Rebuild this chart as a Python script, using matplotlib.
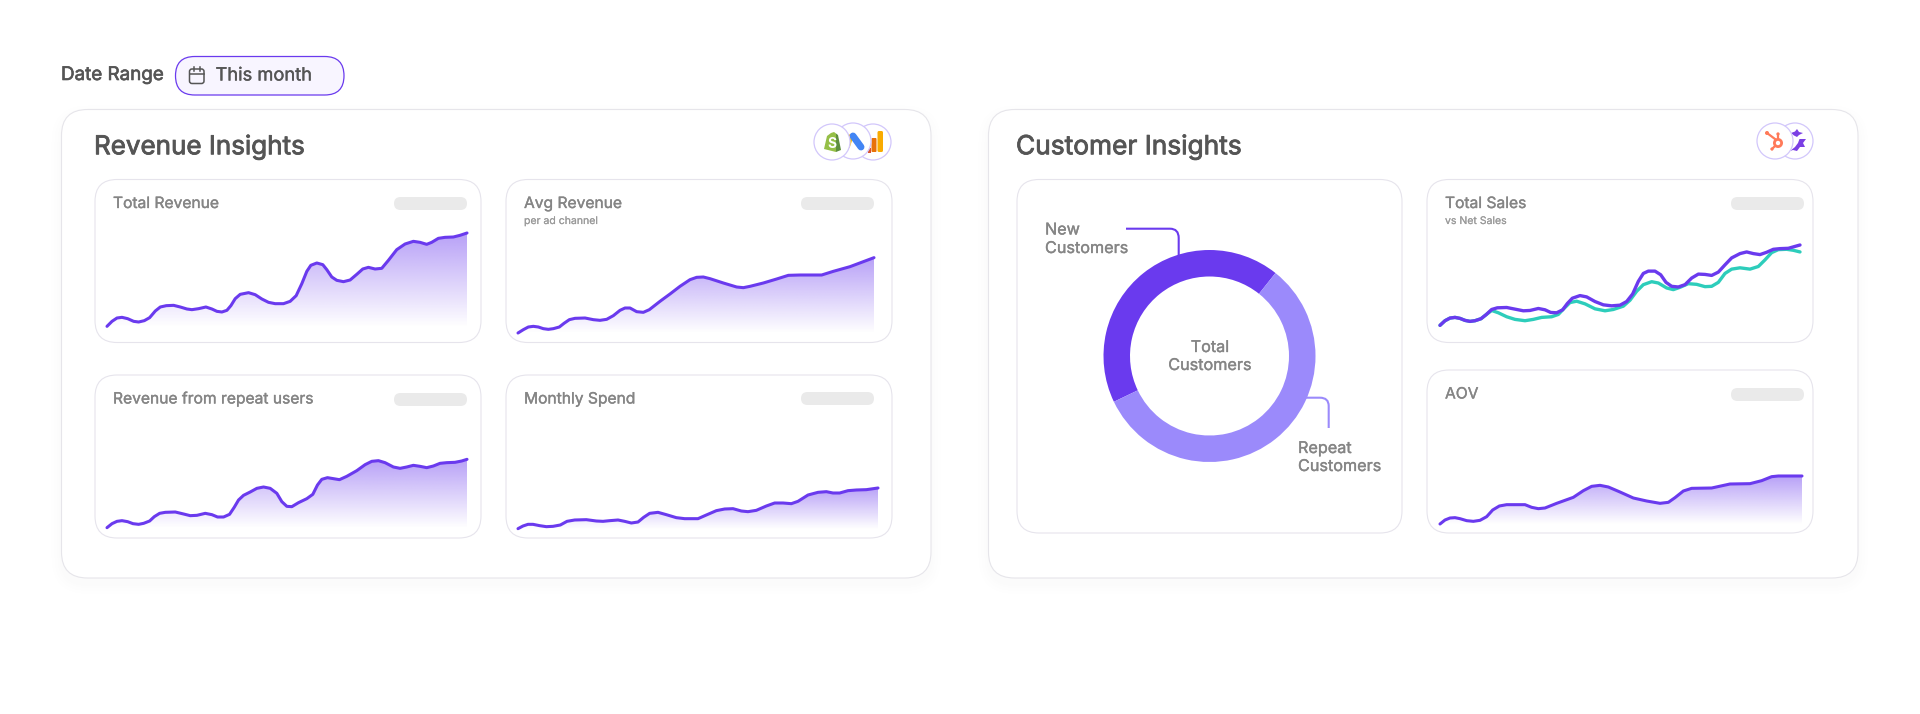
import numpy as np
import matplotlib
matplotlib.use("Agg")
import matplotlib.pyplot as plt
import matplotlib.patheffects as pe
from matplotlib.patches import FancyBboxPatch, Circle, Polygon, PathPatch, Rectangle
from matplotlib.path import Path

plt.rcParams['font.family'] = ['Inter', 'DejaVu Sans']

PURPLE = '#6A3AEE'
LIGHT_PURPLE = '#9B8AFB'
TEAL = '#2DCDBB'
DARK_TEXT = '#555555'
GREY_TEXT = '#858585'

total_rev_x = [0, 15, 30, 45, 62, 80, 95, 112, 128, 145, 160, 178, 200, 220, 240, 255, 275, 297, 315, 330, 345, 360, 372, 385, 400, 425, 445, 465, 485, 505, 530, 550, 568, 585, 600, 612, 630, 648, 660, 675, 690, 710, 730, 750, 768, 785, 805, 825, 845, 870, 895, 920, 940, 960, 975, 995, 1015, 1040, 1060, 1081]
total_rev_y = [2, 17, 27, 29, 25, 17, 15, 19, 28, 48, 60, 64, 65, 60, 54, 52, 55, 60, 54, 47, 45, 50, 64, 85, 98, 103, 97, 84, 74, 70, 70, 77, 94, 130, 167, 185, 192, 187, 172, 150, 140, 136, 141, 158, 174, 179, 174, 176, 200, 232, 249, 257, 254, 248, 254, 266, 269, 270, 275, 282]

avg_rev_x = [0, 16, 31, 46, 61, 76, 91, 106, 124, 138, 154, 171, 201, 226, 246, 266, 286, 306, 321, 336, 356, 376, 394, 426, 456, 486, 516, 536, 556, 576, 616, 656, 676, 696, 736, 776, 811, 846, 911, 946, 996, 1036, 1068]
avg_rev_y = [0, 10, 18, 20, 18, 13, 11, 13, 18, 29, 40, 44, 45, 40, 38, 41, 52, 68, 75, 75, 64, 62, 70, 95, 117, 140, 160, 167, 168, 163, 150, 138, 136, 140, 150, 162, 173, 174, 174, 185, 199, 214, 226]

repeat_x = [0, 15, 30, 45, 62, 78, 95, 110, 128, 142, 158, 175, 205, 230, 250, 270, 295, 315, 332, 350, 368, 382, 395, 410, 430, 450, 470, 490, 510, 525, 540, 555, 575, 600, 618, 632, 645, 662, 680, 698, 720, 750, 775, 795, 815, 835, 860, 880, 900, 920, 940, 960, 980, 1000, 1020, 1045, 1065, 1081]
repeat_y = [1, 13, 20, 22, 19, 13, 11, 14, 21, 34, 44, 47, 48, 42, 37, 38, 44, 40, 33, 33, 41, 62, 84, 98, 108, 119, 123, 119, 104, 79, 65, 64, 76, 88, 101, 129, 146, 151, 148, 145, 155, 172, 190, 200, 202, 196, 183, 179, 183, 188, 185, 181, 186, 194, 196, 197, 201, 206]

spend_x = [0, 15, 30, 45, 65, 85, 105, 127, 147, 170, 205, 235, 255, 275, 300, 320, 340, 360, 377, 395, 420, 445, 475, 500, 540, 565, 595, 620, 645, 670, 690, 715, 745, 770, 795, 820, 840, 870, 900, 925, 945, 965, 990, 1015, 1045, 1080]
spend_y = [1, 9, 14, 14, 10, 7, 8, 12, 23, 27, 28, 24, 23, 25, 27, 23, 18, 21, 35, 47, 50, 43, 34, 31, 31, 42, 55, 60, 61, 54, 52, 56, 69, 78, 78, 76, 83, 102, 110, 112, 108, 108, 115, 117, 118, 123]

sales_x = [0, 15, 30, 45, 60, 75, 90, 105, 123, 138, 155, 172, 200, 225, 250, 270, 295, 315, 332, 350, 368, 382, 397, 420, 440, 465, 490, 515, 540, 560, 578, 595, 610, 625, 645, 662, 678, 695, 715, 735, 755, 775, 795, 815, 835, 855, 875, 900, 920, 940, 960, 980, 1000, 1020, 1045, 1080]
sales_y = [2, 16, 24, 26, 23, 17, 14, 16, 22, 34, 50, 55, 56, 51, 46, 47, 53, 49, 41, 40, 49, 68, 84, 92, 88, 74, 64, 61, 63, 74, 97, 135, 159, 166, 166, 155, 132, 120, 118, 125, 145, 157, 156, 153, 163, 185, 206, 219, 224, 219, 216, 223, 232, 234, 235, 245]

net_x = [0, 15, 30, 45, 60, 75, 90, 105, 123, 138, 155, 175, 200, 225, 255, 280, 305, 335, 355, 372, 390, 410, 435, 465, 495, 520, 550, 570, 590, 610, 635, 655, 680, 700, 720, 745, 770, 795, 815, 835, 855, 875, 900, 930, 955, 975, 995, 1015, 1040, 1060, 1080]
net_y = [2, 16, 24, 26, 23, 17, 14, 16, 22, 34, 47, 40, 28, 20, 16, 20, 26, 28, 35, 53, 71, 75, 67, 52, 46, 50, 60, 78, 105, 125, 134, 130, 115, 110, 117, 128, 126, 119, 120, 132, 159, 172, 176, 172, 180, 200, 222, 231, 232, 229, 224]

aov_x = [0, 15, 30, 45, 60, 80, 100, 120, 140, 158, 178, 200, 255, 275, 295, 315, 350, 400, 430, 455, 480, 505, 540, 580, 620, 660, 685, 705, 730, 755, 815, 870, 930, 965, 995, 1015, 1086]
aov_y = [0, 12, 18, 19, 16, 10, 8, 11, 22, 42, 54, 58, 58, 50, 46, 48, 62, 80, 100, 113, 116, 111, 96, 78, 69, 62, 65, 79, 99, 107, 108, 120, 121, 130, 142, 144, 144]

customer_shares = [42.8, 57.2]
customer_colors = [PURPLE, LIGHT_PURPLE]

fig = plt.figure(figsize=(19.2, 7.14), dpi=100, facecolor='white')
bg = fig.add_axes([0, 0, 1, 1])
bg.set_xlim(0, 1920)
bg.set_ylim(714, 0)
bg.axis('off')


def px_text(x, y, s, size, color=GREY_TEXT, ha='left', stroke=0.25):
    # a thin stroke stands in for the medium weight that Inter does not offer here
    t = bg.text(x, y, s, fontsize=size * 0.72, color=color, ha=ha, va='center', zorder=6)
    t.set_path_effects([pe.withStroke(linewidth=stroke, foreground=color)])


def card(x0, y0, x1, y1, radius, edge='#E6E4EC', shadow=0.006):
    # soft shadow, a few stacked see-through boxes
    for grow in [10, 7, 4, 2]:
        bg.add_patch(FancyBboxPatch((x0 - grow, y0 + 6 - grow), x1 - x0 + 2 * grow, y1 - y0 + 2 * grow,
                                    boxstyle=f'round,pad=0,rounding_size={radius + grow}',
                                    fc='black', ec='none', alpha=shadow, zorder=1))
    bg.add_patch(FancyBboxPatch((x0, y0), x1 - x0, y1 - y0, boxstyle=f'round,pad=0,rounding_size={radius}',
                                fc='white', ec=edge, lw=0.8, zorder=2))


def pill(x0, y0, x1, y1, fc, ec='none', lw=0):
    bg.add_patch(FancyBboxPatch((x0, y0), x1 - x0, y1 - y0, boxstyle=f'round,pad=0,rounding_size={(y1 - y0) / 2}',
                                fc=fc, ec=ec, lw=lw, zorder=4))


def chart_axes(x0, x1, y_top, y_base, xmax, ymax):
    ax = fig.add_axes([x0 / 1920, 1 - y_base / 714, (x1 - x0) / 1920, (y_base - y_top) / 714], zorder=5)
    ax.set_xlim(0, xmax)
    ax.set_ylim(0, ymax)
    ax.axis('off')
    return ax


def area_chart(x0, x1, y_base, xs, ys):
    # one data unit is a third of a pixel
    xmax, ymax = max(xs), max(ys)
    ax = chart_axes(x0, x1, y_base - ymax / 3, y_base, xmax, ymax)
    poly = ax.fill_between(xs, ys, 0, color='none')
    ramp = np.zeros((256, 2, 4))
    ramp[..., :3] = matplotlib.colors.to_rgb(PURPLE)
    ramp[..., 3] = np.linspace(0.48, 0.0, 256)[:, None]
    im = ax.imshow(ramp, extent=[0, xmax, 0, ymax], aspect='auto', origin='upper', zorder=1)
    im.set_clip_path(poly.get_paths()[0], transform=ax.transData)
    ax.set_xlim(0, xmax)
    ax.set_ylim(0, ymax)
    ax.plot(xs, ys, color=PURPLE, lw=2.2, clip_on=False, solid_capstyle='round', solid_joinstyle='round', zorder=2)


def tile(x0, y0, title, pill_x, pill_y, subtitle=None):
    card(x0, y0, x0 + 386, y0 + 163, 22)
    px_text(x0 + 18, y0 + 24, title, 15.6)
    if subtitle:
        px_text(x0 + 18, y0 + 41.5, subtitle, 10.5, color='#9A9A9A', stroke=0.1)
    pill(pill_x, pill_y, pill_x + 73, pill_y + 13, '#EAEAEA')


def logo_ring(x, y, z):
    bg.add_patch(Circle((x, y), 18, fc='white', ec='#D2C7FB', lw=0.9, zorder=z))


# date range control
px_text(61, 75, 'Date Range', 18.8, color=DARK_TEXT, stroke=0.45)
pill(175.5, 56.5, 344, 95, '#F8F5FF', ec=PURPLE, lw=0.9)
bg.add_patch(FancyBboxPatch((189.5, 69), 14.5, 14.5, boxstyle='round,pad=0,rounding_size=2.5',
                            fc='none', ec='#555555', lw=1.1, zorder=5))
bg.plot([189.5, 204], [73.5, 73.5], color='#555555', lw=1.1, zorder=5)
bg.plot([193.5, 193.5], [67, 71], color='#555555', lw=1.1, zorder=5)
bg.plot([200, 200], [67, 71], color='#555555', lw=1.1, zorder=5)
px_text(215.5, 76, 'This month', 18.3, color=DARK_TEXT)

# outer panels
card(61.5, 109.5, 931, 578, 26, edge='#E6E5EA', shadow=0.004)
card(988.5, 109.5, 1858, 578, 26, edge='#E6E5EA', shadow=0.004)
px_text(94, 147, 'Revenue Insights', 26, color=DARK_TEXT, stroke=0.6)
px_text(1016, 147, 'Customer Insights', 26.3, color=DARK_TEXT, stroke=0.6)

# revenue tiles
tile(95, 179.5, 'Total Revenue', 394, 197)
area_chart(107, 467, 327, total_rev_x, total_rev_y)

tile(506, 179.5, 'Avg Revenue', 801, 197, subtitle='per ad channel')
area_chart(518, 874, 333, avg_rev_x, avg_rev_y)

tile(95, 375, 'Revenue from repeat users', 394, 393)
area_chart(107, 467, 528, repeat_x, repeat_y)

tile(506, 375, 'Monthly Spend', 801, 392)
area_chart(518, 878, 529, spend_x, spend_y)

# customer tiles
card(1017, 179.5, 1402, 533, 22)
px_text(1045, 230, 'New', 16.2)
px_text(1045, 248.5, 'Customers', 16.2)
px_text(1298, 448.5, 'Repeat', 16.2)
px_text(1298, 466.5, 'Customers', 16.2)

donut = fig.add_axes([(1209.5 - 106) / 1920, 1 - (356 + 106) / 714, 212 / 1920, 212 / 714], zorder=5)
donut.pie(customer_shares, colors=customer_colors, startangle=51.5, radius=1.0,
          wedgeprops=dict(width=26.5 / 106, linewidth=0))
donut.set_xlim(-1, 1)
donut.set_ylim(-1, 1)
px_text(1210, 347.5, 'Total', 16.2, ha='center')
px_text(1210, 365.5, 'Customers', 16.2, ha='center')

# leader lines
new_leader = Path([(1126, 228.7), (1170, 228.7), (1178.7, 228.7), (1178.7, 238), (1178.7, 255)],
                  [Path.MOVETO, Path.LINETO, Path.CURVE3, Path.CURVE3, Path.LINETO])
bg.add_patch(PathPatch(new_leader, fc='none', ec=PURPLE, lw=1.5, zorder=4))
repeat_leader = Path([(1306, 397.7), (1320, 397.7), (1328.7, 397.7), (1328.7, 406), (1328.7, 428)],
                     [Path.MOVETO, Path.LINETO, Path.CURVE3, Path.CURVE3, Path.LINETO])
bg.add_patch(PathPatch(repeat_leader, fc='none', ec=LIGHT_PURPLE, lw=1.5, zorder=4))

tile(1427, 179.5, 'Total Sales', 1731, 197, subtitle='vs Net Sales')
sales_ax = chart_axes(1440, 1800, 245, 326, 1080, 245)
sales_ax.plot(net_x, net_y, color=TEAL, lw=2.4, clip_on=False, solid_capstyle='round')
sales_ax.plot(sales_x, sales_y, color=PURPLE, lw=2.4, clip_on=False, solid_capstyle='round')

tile(1427, 370, 'AOV', 1731, 388)
area_chart(1440, 1802, 524, aov_x, aov_y)

# source logos, right ring first so the left one sits on top
logo_ring(873, 142, 4)
bg.add_patch(Rectangle((868, 148), 3, 5, fc='#D9502A', ec='none', zorder=4.1))
bg.add_patch(FancyBboxPatch((871.5, 138), 5, 14, boxstyle='round,pad=0,rounding_size=1', fc='#E8710A', ec='none', zorder=4.1))
bg.add_patch(FancyBboxPatch((877.5, 131), 5.5, 21, boxstyle='round,pad=0,rounding_size=1.5', fc='#F9AB00', ec='none', zorder=4.1))
logo_ring(853, 141, 4.2)
bg.plot([851, 847], [135, 147], color='#FBBC04', lw=4, zorder=4.3, solid_capstyle='butt')
bg.plot([853, 861], [136, 147], color='#4285F4', lw=5, zorder=4.4, solid_capstyle='round')
logo_ring(832, 142, 4.5)
bg.add_patch(Polygon([(824, 149), (827, 136), (831, 133), (834, 132), (836, 133.5), (836, 152)], fc='#95BF47', ec='none', zorder=4.6))
bg.add_patch(Polygon([(836, 133.5), (838, 135), (841, 150), (836, 152)], fc='#5E8E3E', ec='none', zorder=4.6))
bg.text(831.5, 143.5, 'S', fontsize=10, weight='bold', color='white', ha='center', va='center', zorder=4.7)

logo_ring(1795, 141, 4)
bg.add_patch(Polygon([(1791, 133), (1795, 131.5), (1797, 129), (1799, 132), (1803, 133), (1799, 135), (1797, 137), (1794, 135.5)],
                     fc='#7B3FE4', ec='none', zorder=4.1))
bg.add_patch(Polygon([(1790, 151), (1795, 147), (1798, 143), (1799.5, 139), (1806, 139), (1803, 143), (1805, 147), (1800, 147), (1797, 151), (1793, 150)],
                     fc='#7B3FE4', ec='none', zorder=4.1))
logo_ring(1775, 141, 4.2)
hub = '#FF7A59'
bg.plot([1767, 1775], [133, 139], color=hub, lw=1.6, zorder=4.3)
bg.plot([1778, 1778], [134, 139], color=hub, lw=1.6, zorder=4.3)
bg.plot([1772, 1775], [149, 146], color=hub, lw=1.6, zorder=4.3)
bg.add_patch(Circle((1778, 143), 3.6, fc='white', ec=hub, lw=2.0, zorder=4.4))
for hx, hy, hr in [(1767, 133, 2), (1778, 134, 1.6), (1772, 149, 1.6)]:
    bg.add_patch(Circle((hx, hy), hr, fc=hub, ec='none', zorder=4.4))

fig.savefig('out.png', dpi=100, facecolor='white')
